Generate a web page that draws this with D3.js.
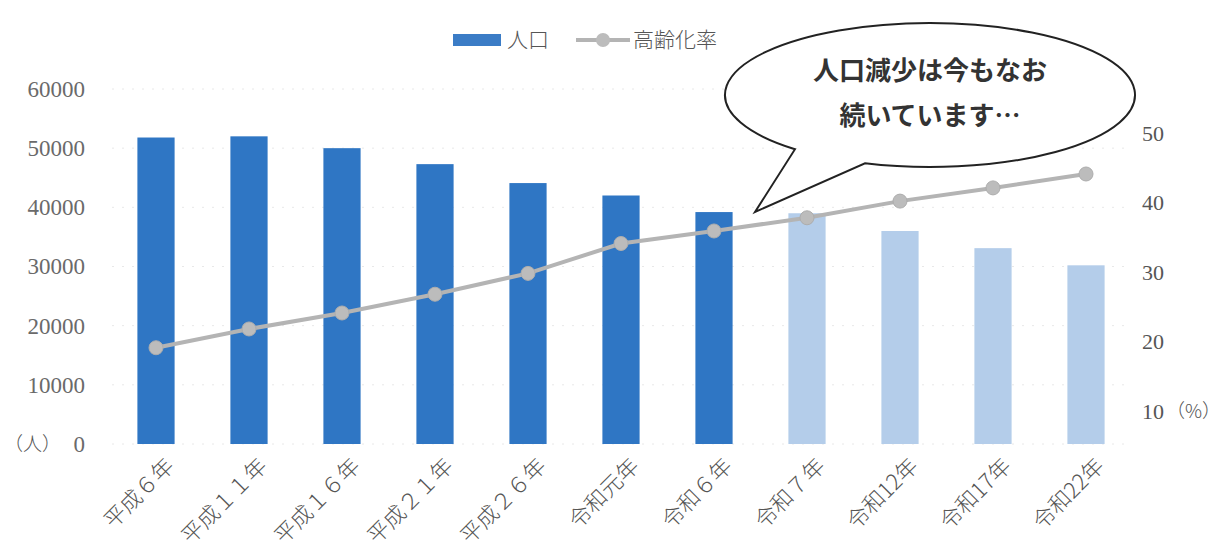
<!DOCTYPE html>
<html>
<head>
<meta charset="utf-8">
<script src="https://cdn.jsdelivr.net/npm/d3@7"></script>
<style>
  body { margin: 0; background: #fff; }
  svg { display: block; }
</style>
</head>
<body>
<script>
// categories and values
var years = ["平成６年", "平成１１年", "平成１６年", "平成２１年", "平成２６年", "令和元年",
             "令和６年", "令和７年", "令和12年", "令和17年", "令和22年"];
var population = [51800, 52000, 50000, 47300, 44100, 42000, 39200, 39000, 36000, 33100, 30200];
var agingRate = [19.1, 21.8, 24.1, 26.8, 29.8, 34.1, 35.9, 37.8, 40.2, 42.1, 44.1];
// first 7 are actual, the rest are projections
var projected = [false, false, false, false, false, false, false, true, true, true, true];
var leftTicks = [0, 10000, 20000, 30000, 40000, 50000, 60000];
var rightTicks = [10, 20, 30, 40, 50];
var bubbleLines = ["人口減少は今もなお", "続いています…"];

var W = 1220, H = 557;
var plotTop = 89, plotBottom = 444;

var svg = d3.select("body").append("svg")
    .attr("width", W)
    .attr("height", H);

var x = d3.scaleBand()
    .domain(years)
    .range([109.5, 1132.5])
    .paddingInner(0.6)
    .paddingOuter(0.3);

var y = d3.scaleLinear().domain([0, 60000]).range([plotBottom, plotTop]);
var y2 = d3.scaleLinear().domain([5.25, 56.33]).range([plotBottom, plotTop]);

var numFont = "'Liberation Serif', 'DejaVu Serif', serif";
var jpFont = "'Noto Sans CJK JP', sans-serif";

// faint dotted gridlines
svg.append("g")
    .selectAll("line")
    .data(leftTicks)
    .enter().append("line")
    .attr("x1", 112).attr("x2", 1128)
    .attr("y1", function (d) { return y(d); })
    .attr("y2", function (d) { return y(d); })
    .attr("stroke", "#e8e8e8")
    .attr("stroke-width", 1)
    .attr("stroke-dasharray", "2,8");

// bars
svg.append("g")
    .selectAll("rect")
    .data(years)
    .enter().append("rect")
    .attr("x", function (d) { return x(d); })
    .attr("width", x.bandwidth())
    .attr("y", function (d, i) { return y(population[i]); })
    .attr("height", function (d, i) { return plotBottom - y(population[i]); })
    .attr("fill", function (d, i) { return projected[i] ? "#b4cdea" : "#2f76c4"; });

// aging rate line
var cx = function (d, i) { return x(years[i]) + x.bandwidth() / 2; };
var line = d3.line()
    .x(cx)
    .y(function (d) { return y2(d); });

svg.append("path")
    .datum(agingRate)
    .attr("d", line)
    .attr("fill", "none")
    .attr("stroke", "#b4b4b4")
    .attr("stroke-width", 4);

svg.append("g")
    .selectAll("circle")
    .data(agingRate)
    .enter().append("circle")
    .attr("cx", cx)
    .attr("cy", function (d) { return y2(d); })
    .attr("r", 7)
    .attr("fill", "#bcbcbc")
    .attr("stroke", "#adadad")
    .attr("stroke-width", 1);

// left axis
var leftAxis = svg.append("g")
    .attr("transform", "translate(85,0)")
    .call(d3.axisLeft(y).tickValues(leftTicks).tickSize(0).tickPadding(0).tickFormat(d3.format("d")));
leftAxis.select(".domain").remove();
leftAxis.selectAll("text")
    .attr("font-family", numFont)
    .attr("font-size", 23)
    .attr("fill", "#6a6a6a");

// right axis
var rightAxis = svg.append("g")
    .attr("transform", "translate(1142,0)")
    .call(d3.axisRight(y2).tickValues(rightTicks).tickSize(0).tickPadding(0));
rightAxis.select(".domain").remove();
rightAxis.selectAll("text")
    .attr("font-family", numFont)
    .attr("font-size", 22)
    .attr("fill", "#555");

// unit labels
svg.append("text")
    .attr("x", 4).attr("y", y(0))
    .attr("dy", "0.35em")
    .attr("font-family", jpFont)
    .attr("font-weight", 300)
    .attr("font-size", 19)
    .attr("fill", "#555")
    .text("（人）");
svg.append("text")
    .attr("x", 1166).attr("y", y2(10))
    .attr("dy", "0.35em")
    .attr("font-family", jpFont)
    .attr("font-weight", 300)
    .attr("font-size", 19)
    .attr("fill", "#555")
    .text("（%）");

// category labels, rotated
svg.append("g")
    .selectAll("text")
    .data(years)
    .enter().append("text")
    .attr("transform", function (d) {
        return "translate(" + (x(d) + x.bandwidth() / 2 + 14) + ",462) rotate(-45)";
    })
    .attr("text-anchor", "end")
    .attr("dy", "0.35em")
    .attr("font-family", jpFont)
    .attr("font-weight", 300)
    .attr("font-size", 22)
    .attr("fill", "#555")
    .text(function (d) { return d; });

// legend
var legend = svg.append("g");
legend.append("rect")
    .attr("x", 453).attr("y", 34)
    .attr("width", 48).attr("height", 12)
    .attr("fill", "#3b7cc6");
legend.append("text")
    .attr("x", 507).attr("y", 40)
    .attr("dy", "0.35em")
    .attr("font-family", jpFont)
    .attr("font-weight", 300)
    .attr("font-size", 21)
    .attr("fill", "#555")
    .text("人口");
legend.append("line")
    .attr("x1", 576).attr("x2", 630)
    .attr("y1", 40).attr("y2", 40)
    .attr("stroke", "#b4b4b4")
    .attr("stroke-width", 4);
legend.append("circle")
    .attr("cx", 603).attr("cy", 40)
    .attr("r", 7)
    .attr("fill", "#bcbcbc");
legend.append("text")
    .attr("x", 633).attr("y", 40)
    .attr("dy", "0.35em")
    .attr("font-family", jpFont)
    .attr("font-weight", 300)
    .attr("font-size", 21)
    .attr("fill", "#555")
    .text("高齢化率");

// speech bubble
var bx = 930, by = 95, rx = 205, ry = 72;
var pA = [795, by + ry * Math.sqrt(1 - Math.pow((795 - bx) / rx, 2))];
var pB = [865, by + ry * Math.sqrt(1 - Math.pow((865 - bx) / rx, 2))];
var tip = [755, 212];
var bubble = "M" + pA[0] + "," + pA[1] +
    " A" + rx + "," + ry + " 0 1 1 " + pB[0] + "," + pB[1] +
    " L" + tip[0] + "," + tip[1] + " Z";
svg.append("path")
    .attr("d", bubble)
    .attr("fill", "#fff")
    .attr("stroke", "#222")
    .attr("stroke-width", 2);

svg.append("g")
    .selectAll("text")
    .data(bubbleLines)
    .enter().append("text")
    .attr("x", bx)
    .attr("y", function (d, i) { return 71 + i * 45; })
    .attr("dy", "0.35em")
    .attr("text-anchor", "middle")
    .attr("font-family", jpFont)
    .attr("font-weight", "bold")
    .attr("font-size", 26)
    .attr("fill", "#333")
    .text(function (d) { return d; });
</script>
</body>
</html>
